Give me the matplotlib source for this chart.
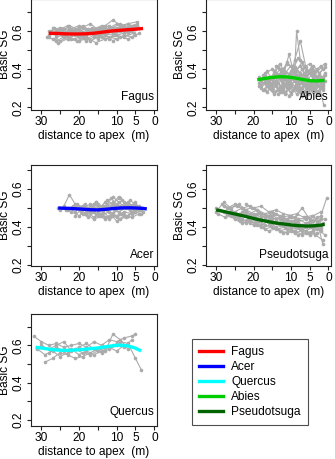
import matplotlib
matplotlib.use("Agg")
import matplotlib.pyplot as plt
from matplotlib.lines import Line2D

plt.rcParams['font.family'] = ['Liberation Sans', 'DejaVu Sans']

# ---------------- data ----------------
species = ["Fagus", "Acer", "Quercus", "Abies", "Pseudotsuga"]
colors = {"Fagus": "#FF0000", "Acer": "#0000FF", "Quercus": "#00FFFF",
          "Abies": "#00CD00", "Pseudotsuga": "#006400"}

# individual trees: (distances to apex, basic SG)
fagus_trees = [
    ([28, 26, 24, 22, 20, 18, 16, 14, 12, 10, 8, 6, 4],
     [0.58, 0.60, 0.57, 0.59, 0.61, 0.58, 0.60, 0.59, 0.62, 0.60, 0.63, 0.61, 0.62]),
    ([27, 25, 23, 21, 19, 17, 15, 13, 11, 9, 7, 5],
     [0.56, 0.55, 0.57, 0.56, 0.58, 0.55, 0.57, 0.59, 0.58, 0.60, 0.59, 0.61]),
    ([27.5, 25, 22.5, 20, 17.5, 15, 12.5, 10, 7.5, 5],
     [0.60, 0.62, 0.61, 0.63, 0.60, 0.62, 0.61, 0.64, 0.62, 0.63]),
    ([26, 24, 22, 20, 18, 16, 14, 12, 10, 8, 6],
     [0.57, 0.58, 0.56, 0.55, 0.56, 0.58, 0.57, 0.56, 0.58, 0.59, 0.60]),
    ([25, 23, 21, 19, 17, 15, 13, 11, 9, 7, 5],
     [0.61, 0.63, 0.60, 0.62, 0.64, 0.61, 0.63, 0.66, 0.63, 0.64, 0.62]),
    ([28, 25.5, 23, 20.5, 18, 15.5, 13, 10.5, 8, 5.5],
     [0.57, 0.54, 0.56, 0.55, 0.57, 0.54, 0.56, 0.58, 0.57, 0.59]),
    ([24, 22, 20, 18, 16, 14, 12, 10, 8, 6, 4.5],
     [0.59, 0.61, 0.60, 0.58, 0.61, 0.63, 0.60, 0.62, 0.61, 0.63, 0.64]),
    ([26.5, 24.5, 22.5, 20.5, 18.5, 16.5, 14.5, 12.5, 10.5, 8.5, 6.5],
     [0.62, 0.60, 0.63, 0.61, 0.59, 0.62, 0.60, 0.59, 0.61, 0.62, 0.60]),
    ([21, 19, 17, 15, 13, 11, 9, 7, 5],
     [0.60, 0.57, 0.59, 0.56, 0.58, 0.55, 0.57, 0.56, 0.58]),
    ([27, 24.5, 22, 19.5, 17, 14.5, 12, 9.5, 7, 4.5],
     [0.59, 0.61, 0.58, 0.60, 0.59, 0.62, 0.60, 0.61, 0.64, 0.65]),
    ([28.5, 26.5, 24.5, 22.5, 20.5, 18.5, 16.5, 14.5, 12.5, 10.5, 8.5, 6.5, 4.5],
     [0.57, 0.59, 0.58, 0.60, 0.58, 0.57, 0.59, 0.58, 0.60, 0.59, 0.61, 0.62, 0.63]),
    ([27, 25, 23, 21, 19, 17, 15, 13, 11, 9, 7, 5],
     [0.62, 0.60, 0.59, 0.61, 0.63, 0.60, 0.58, 0.60, 0.62, 0.64, 0.62, 0.61]),
    ([26, 24, 22, 20, 18, 16, 14, 12, 10, 8, 6, 4],
     [0.55, 0.57, 0.59, 0.57, 0.55, 0.57, 0.59, 0.57, 0.56, 0.58, 0.57, 0.59]),
    ([25.5, 23.5, 21.5, 19.5, 17.5, 15.5, 13.5, 11.5, 9.5, 7.5, 5.5],
     [0.59, 0.58, 0.60, 0.59, 0.61, 0.60, 0.62, 0.61, 0.60, 0.62, 0.63]),
    ([23, 21, 19, 17, 15, 13, 11, 9, 7, 5],
     [0.56, 0.58, 0.57, 0.60, 0.58, 0.60, 0.59, 0.61, 0.60, 0.62]),
    ([28, 26, 24, 22, 20, 18, 16, 14, 12, 10, 8],
     [0.60, 0.58, 0.61, 0.60, 0.62, 0.61, 0.59, 0.61, 0.63, 0.61, 0.60]),
]
fagus_smooth_x = [28, 26, 24, 22, 20, 18, 16, 14, 12, 10, 8, 6, 4, 3]
fagus_smooth_y = [0.590, 0.589, 0.587, 0.586, 0.586, 0.587, 0.590, 0.595, 0.600, 0.604, 0.607, 0.610, 0.613, 0.615]

abies_trees = [
    ([18.5, 17, 15.5, 14, 12.5, 11, 9.5, 8, 6.5, 5, 3.5, 2, 1],
     [0.33, 0.37, 0.31, 0.36, 0.39, 0.33, 0.42, 0.35, 0.38, 0.32, 0.36, 0.33, 0.38]),
    ([18, 16.5, 15, 13.5, 12, 10.5, 9, 7.5, 6, 4.5, 3, 1.5],
     [0.30, 0.34, 0.29, 0.33, 0.30, 0.35, 0.31, 0.37, 0.32, 0.30, 0.34, 0.29]),
    ([17, 15, 13, 11, 9, 8.5, 7.5, 6, 4, 2, 1],
     [0.38, 0.40, 0.37, 0.43, 0.40, 0.60, 0.45, 0.39, 0.36, 0.41, 0.43]),
    ([17.5, 16, 14.5, 13, 11.5, 10, 8.5, 7, 5.5, 4, 2.5, 1.2],
     [0.29, 0.32, 0.28, 0.30, 0.27, 0.31, 0.29, 0.33, 0.30, 0.28, 0.31, 0.21]),
    ([16, 14, 12, 10, 9, 7.5, 6, 4.5, 3, 1.5],
     [0.36, 0.34, 0.40, 0.37, 0.45, 0.55, 0.41, 0.37, 0.40, 0.35]),
    ([18, 16, 14, 12, 10.5, 9, 7, 5, 3.5, 2],
     [0.32, 0.35, 0.33, 0.37, 0.48, 0.36, 0.34, 0.38, 0.33, 0.36]),
    ([15.5, 14, 12.5, 11, 9.5, 8, 6.5, 5, 3.5, 2],
     [0.31, 0.38, 0.34, 0.30, 0.35, 0.31, 0.36, 0.33, 0.29, 0.32]),
    ([17, 15, 13.5, 12, 10, 8, 6, 4, 2.5, 1],
     [0.35, 0.30, 0.36, 0.32, 0.28, 0.34, 0.30, 0.35, 0.31, 0.34]),
    ([14, 12.5, 11, 9.5, 8, 6.5, 5, 3.5, 2],
     [0.42, 0.38, 0.44, 0.40, 0.46, 0.41, 0.43, 0.39, 0.42]),
    ([18.5, 16.5, 14.5, 12.5, 10.5, 8.5, 6.5, 4.5, 2.5],
     [0.36, 0.33, 0.38, 0.35, 0.33, 0.37, 0.32, 0.34, 0.37]),
    ([13, 11.5, 10, 8.5, 7, 5.5, 4, 2.5, 1.5],
     [0.28, 0.32, 0.27, 0.30, 0.26, 0.29, 0.31, 0.28, 0.30]),
    ([16.5, 15, 13.5, 12, 10.5, 9, 7.5, 6, 4.5, 3],
     [0.39, 0.35, 0.41, 0.37, 0.34, 0.39, 0.42, 0.36, 0.40, 0.34]),
    ([18, 16.5, 15, 13.5, 12, 10.5, 9, 7.5, 6, 4.5, 3, 1.5],
     [0.34, 0.31, 0.35, 0.29, 0.33, 0.30, 0.34, 0.29, 0.33, 0.31, 0.28, 0.32]),
    ([17.5, 16, 14.5, 13, 11.5, 10, 8.5, 7, 5.5, 4, 2.5, 1],
     [0.37, 0.33, 0.36, 0.40, 0.35, 0.39, 0.36, 0.40, 0.35, 0.38, 0.34, 0.37]),
    ([16, 14.5, 13, 11.5, 10, 8.5, 7, 5.5, 4, 2.5],
     [0.30, 0.27, 0.31, 0.28, 0.32, 0.27, 0.30, 0.27, 0.29, 0.27]),
    ([15, 13.5, 12, 10.5, 9, 7.5, 6, 4.5, 3, 1.5],
     [0.33, 0.37, 0.31, 0.35, 0.38, 0.33, 0.37, 0.41, 0.36, 0.40]),
    ([18.5, 17, 15.5, 14, 12.5, 11, 9.5, 8, 6.5, 5, 3.5, 2],
     [0.31, 0.29, 0.33, 0.31, 0.28, 0.32, 0.29, 0.31, 0.28, 0.31, 0.33, 0.30]),
    ([14.5, 13, 11.5, 10, 8.5, 7, 5.5, 4, 2.5, 1],
     [0.39, 0.43, 0.38, 0.42, 0.39, 0.44, 0.39, 0.42, 0.38, 0.41]),
    ([17, 15.5, 14, 12.5, 11, 9.5, 8, 6.5, 5, 3.5, 2],
     [0.33, 0.36, 0.32, 0.35, 0.31, 0.36, 0.33, 0.37, 0.34, 0.31, 0.35]),
    ([12, 10.5, 9, 7.5, 6, 4.5, 3, 1.5],
     [0.35, 0.31, 0.34, 0.30, 0.33, 0.29, 0.32, 0.36]),
    ([16.5, 15, 13.5, 12, 10.5, 9, 7.5, 6, 4.5, 3, 1.5],
     [0.28, 0.31, 0.27, 0.29, 0.26, 0.30, 0.28, 0.26, 0.30, 0.27, 0.31]),
    ([13.5, 12, 10.5, 9, 7.5, 6, 4.5, 3, 1.5],
     [0.36, 0.40, 0.37, 0.41, 0.38, 0.35, 0.39, 0.36, 0.33]),
]
abies_smooth_x = [19, 17, 15, 13, 11, 9, 7, 5, 3, 1]
abies_smooth_y = [0.345, 0.352, 0.358, 0.361, 0.360, 0.355, 0.347, 0.340, 0.339, 0.342]

acer_trees = [
    ([25.5, 23.5, 21.5, 19.5, 17.5, 15.5, 13.5, 11.5, 9.5, 7.5, 5.5, 3.5],
     [0.50, 0.49, 0.51, 0.48, 0.50, 0.47, 0.49, 0.51, 0.48, 0.50, 0.49, 0.50]),
    ([24, 22.5, 21, 19, 17, 15, 13, 11, 9, 7, 5],
     [0.51, 0.57, 0.52, 0.50, 0.52, 0.49, 0.51, 0.53, 0.55, 0.52, 0.51]),
    ([22, 20, 18, 16, 14, 12, 10, 8, 6, 4],
     [0.48, 0.46, 0.48, 0.45, 0.47, 0.44, 0.46, 0.48, 0.47, 0.49]),
    ([20, 18.5, 17, 15.5, 14, 12.5, 11, 9.5, 8, 6.5, 5],
     [0.50, 0.52, 0.49, 0.53, 0.51, 0.54, 0.52, 0.56, 0.53, 0.51, 0.53]),
    ([18, 16, 14, 12, 10, 8, 6, 4],
     [0.47, 0.44, 0.46, 0.48, 0.43, 0.46, 0.45, 0.47]),
    ([23, 21, 19, 17, 15, 13, 11, 9, 7, 5, 3],
     [0.49, 0.51, 0.50, 0.48, 0.51, 0.50, 0.47, 0.50, 0.52, 0.49, 0.48]),
    ([16, 14.5, 13, 11.5, 10, 8.5, 7, 5.5, 4],
     [0.52, 0.50, 0.53, 0.55, 0.52, 0.54, 0.50, 0.52, 0.51]),
    ([21, 19.5, 18, 16.5, 15, 13.5, 12, 10.5, 9, 7.5, 6],
     [0.46, 0.49, 0.47, 0.50, 0.46, 0.48, 0.45, 0.49, 0.47, 0.45, 0.48]),
    ([25, 23, 21, 19, 17, 15, 13, 11, 9, 7, 5, 3.5],
     [0.49, 0.50, 0.48, 0.51, 0.49, 0.52, 0.50, 0.52, 0.51, 0.53, 0.50, 0.49]),
    ([19, 17.5, 16, 14.5, 13, 11.5, 10, 8.5, 7, 5.5],
     [0.47, 0.45, 0.48, 0.46, 0.44, 0.46, 0.45, 0.47, 0.46, 0.48]),
    ([22.5, 20.5, 18.5, 16.5, 14.5, 12.5, 10.5, 8.5, 6.5, 4.5],
     [0.50, 0.52, 0.50, 0.48, 0.50, 0.49, 0.51, 0.50, 0.49, 0.51]),
    ([17, 15.5, 14, 12.5, 11, 9.5, 8, 6.5, 5],
     [0.51, 0.53, 0.50, 0.52, 0.56, 0.53, 0.51, 0.54, 0.52]),
    ([15, 13, 11, 9, 7, 5, 3.5],
     [0.48, 0.45, 0.47, 0.44, 0.46, 0.48, 0.47]),
]
acer_smooth_x = [25.5, 23, 20, 17, 15, 13, 11, 9, 7, 5, 3, 2]
acer_smooth_y = [0.500, 0.498, 0.495, 0.491, 0.490, 0.493, 0.497, 0.500, 0.501, 0.500, 0.498, 0.495]

pseudo_trees = [
    ([30, 28, 26, 24, 22, 20, 18, 16, 14, 12, 10, 8, 6, 4, 2, 0.5],
     [0.48, 0.53, 0.50, 0.52, 0.49, 0.47, 0.45, 0.46, 0.44, 0.45, 0.43, 0.44, 0.42, 0.43, 0.46, 0.55]),
    ([29.5, 27.5, 25.5, 23.5, 21.5, 19.5, 17.5, 15.5, 13.5, 11.5, 9.5, 7.5, 5.5, 3.5, 1.5],
     [0.47, 0.45, 0.46, 0.43, 0.44, 0.42, 0.40, 0.41, 0.39, 0.40, 0.38, 0.39, 0.37, 0.36, 0.33]),
    ([28, 26, 24, 22, 20, 18, 16, 14, 12, 10, 8, 6, 4, 2],
     [0.51, 0.49, 0.47, 0.48, 0.46, 0.44, 0.42, 0.43, 0.41, 0.40, 0.41, 0.40, 0.39, 0.41]),
    ([27, 25, 23, 21, 19, 17, 15, 13, 11, 9, 7, 5, 3, 1.5],
     [0.50, 0.52, 0.50, 0.51, 0.49, 0.47, 0.48, 0.46, 0.44, 0.45, 0.50, 0.44, 0.43, 0.31]),
    ([26, 24, 22, 20, 18, 16, 14, 12, 10, 8, 6, 4, 2],
     [0.46, 0.45, 0.43, 0.41, 0.40, 0.38, 0.39, 0.37, 0.38, 0.36, 0.37, 0.38, 0.40]),
    ([25, 23, 21, 19, 17, 15, 13, 11, 9, 7, 5, 3, 1],
     [0.48, 0.50, 0.47, 0.49, 0.46, 0.44, 0.45, 0.43, 0.42, 0.41, 0.43, 0.45, 0.44]),
    ([24, 22, 20, 18, 16, 14, 12, 10, 8, 6, 4, 2],
     [0.44, 0.42, 0.44, 0.41, 0.43, 0.40, 0.42, 0.39, 0.40, 0.38, 0.40, 0.38]),
    ([22, 20, 18, 16, 14, 12, 10, 8, 6, 4, 2],
     [0.52, 0.50, 0.51, 0.48, 0.49, 0.47, 0.46, 0.44, 0.45, 0.43, 0.44]),
    ([29, 27, 25, 23, 21, 19, 17, 15, 13, 11, 9, 7, 5, 3],
     [0.49, 0.47, 0.45, 0.44, 0.42, 0.43, 0.41, 0.40, 0.38, 0.39, 0.37, 0.38, 0.36, 0.37]),
    ([20, 18, 16, 14, 12, 10, 8, 6, 4, 2],
     [0.45, 0.47, 0.45, 0.47, 0.44, 0.45, 0.43, 0.44, 0.46, 0.48]),
    ([30, 28, 26, 24, 22, 20, 18, 16, 14, 12, 10, 8, 6, 4, 2],
     [0.50, 0.48, 0.47, 0.46, 0.47, 0.45, 0.43, 0.44, 0.42, 0.43, 0.41, 0.42, 0.40, 0.41, 0.39]),
    ([28.5, 26.5, 24.5, 22.5, 20.5, 18.5, 16.5, 14.5, 12.5, 10.5, 8.5, 6.5, 4.5, 2.5],
     [0.52, 0.50, 0.51, 0.49, 0.50, 0.48, 0.46, 0.47, 0.45, 0.46, 0.47, 0.45, 0.46, 0.43]),
    ([27, 25, 23, 21, 19, 17, 15, 13, 11, 9, 7, 5, 3, 1],
     [0.47, 0.44, 0.42, 0.43, 0.41, 0.39, 0.40, 0.38, 0.37, 0.38, 0.36, 0.37, 0.39, 0.36]),
    ([23, 21, 19, 17, 15, 13, 11, 9, 7, 5, 3, 1.5],
     [0.48, 0.46, 0.47, 0.45, 0.46, 0.44, 0.42, 0.43, 0.41, 0.42, 0.41, 0.42]),
    ([25, 23, 21, 19, 17, 15, 13, 11, 9, 7, 5, 3],
     [0.45, 0.47, 0.45, 0.43, 0.44, 0.42, 0.41, 0.42, 0.40, 0.39, 0.40, 0.42]),
]
pseudo_smooth_x = [30, 28, 26, 24, 22, 20, 18, 16, 14, 12, 10, 8, 6, 4, 2, 1]
pseudo_smooth_y = [0.490, 0.482, 0.473, 0.464, 0.455, 0.445, 0.436, 0.428, 0.421, 0.416, 0.411, 0.407, 0.405, 0.406, 0.410, 0.414]

quercus_trees = [
    ([32, 30, 28, 26, 24, 22, 20, 18, 16, 14, 12, 10, 8, 6, 5],
     [0.65, 0.62, 0.60, 0.61, 0.59, 0.60, 0.61, 0.59, 0.62, 0.60, 0.63, 0.62, 0.64, 0.65, 0.66]),
    ([31, 29, 27, 25, 23, 21, 19, 17, 15, 13, 11, 9, 7, 5, 3.5],
     [0.58, 0.55, 0.57, 0.54, 0.56, 0.58, 0.56, 0.55, 0.57, 0.59, 0.60, 0.62, 0.61, 0.53, 0.47]),
    ([29, 27, 25, 23, 21, 19, 17, 15, 13, 11, 9, 7],
     [0.51, 0.53, 0.56, 0.55, 0.53, 0.54, 0.56, 0.58, 0.57, 0.66, 0.63, 0.58]),
    ([30, 28, 26, 24, 22, 20, 18, 16, 14, 12, 10, 8, 6],
     [0.60, 0.58, 0.60, 0.62, 0.57, 0.59, 0.61, 0.58, 0.56, 0.58, 0.60, 0.59, 0.63]),
    ([28, 26, 24, 22, 20, 18, 16, 14, 12, 10, 8],
     [0.56, 0.59, 0.57, 0.58, 0.55, 0.57, 0.55, 0.57, 0.59, 0.57, 0.60]),
]
quercus_smooth_x = [31.5, 29, 27, 25, 23, 21, 19, 17, 15, 13, 11, 9, 7, 5, 3.5]
quercus_smooth_y = [0.590, 0.583, 0.577, 0.574, 0.573, 0.575, 0.578, 0.582, 0.586, 0.592, 0.598, 0.601, 0.597, 0.585, 0.570]

xticks = [30, 25, 20, 15, 10, 5, 0]
xticklabels = ["30", "", "20", "", "10", "5", "0"]
yticks = [0.2, 0.3, 0.4, 0.5, 0.6, 0.7]
yticklabels = ["0.2", "", "0.4", "", "0.6", ""]

# ---------------- layout ----------------
W, H = 335, 459
fig = plt.figure(figsize=(W / 100, H / 100), dpi=100)

def px_axes(x0, x1, y0, y1):
    return fig.add_axes([x0 / W, 1 - y1 / H, (x1 - x0) / W, (y1 - y0) / H])

panels = [
    ("Fagus", fagus_trees, fagus_smooth_x, fagus_smooth_y, (31, 157, -1, 110), (0.186, 0.770), 0.117),
    ("Abies", abies_trees, abies_smooth_x, abies_smooth_y, (206, 331, -1, 110), (0.186, 0.770), 0.117),
    ("Acer", acer_trees, acer_smooth_x, acer_smooth_y, (31, 157, 165, 266), (0.195, 0.726), 0.11),
    ("Pseudotsuga", pseudo_trees, pseudo_smooth_x, pseudo_smooth_y, (206, 331, 165, 266), (0.195, 0.726), 0.11),
    ("Quercus", quercus_trees, quercus_smooth_x, quercus_smooth_y, (31, 157, 314, 426), (0.168, 0.768), 0.125),
]

gray = "#ABABAB"
fs = 8.6
for name, trees, sx, sy, box, ylim, ty_lab in panels:
    ax = px_axes(*box)
    for tx, ty in trees:
        ax.plot(tx, ty, color=gray, lw=0.8, marker="o", ms=2.6, mew=0, zorder=2)
    ax.plot(sx, sy, color=colors[name], lw=2.4, solid_capstyle="butt", zorder=3)
    ax.set_xlim(32.7, -0.7)
    ax.set_ylim(*ylim)
    ax.set_xticks(xticks)
    ax.set_xticklabels(xticklabels, fontsize=fs)
    ax.set_yticks(yticks)
    ax.set_yticklabels(yticklabels, fontsize=fs, rotation=90, va="center")
    ax.tick_params(length=3, width=0.8, color="#222222", pad=1.5)
    for s in ax.spines.values():
        s.set_color("#222222")
        s.set_linewidth(0.8)
    ax.set_xlabel("distance to apex  (m)", fontsize=fs, labelpad=1.5)
    ax.set_ylabel("Basic SG", fontsize=fs, labelpad=1.5)
    ax.text(0.98, ty_lab, name, transform=ax.transAxes, ha="right", va="center",
            fontsize=fs, zorder=4)

# legend
lax = px_axes(165, 335, 330, 430)
lax.axis("off")
handles = [Line2D([0], [0], color=colors[s], lw=2.4) for s in species]
lax.legend(handles, species, loc="upper left",
           bbox_to_anchor=((192 - 165) / 170, (430 - 339) / 100),
           fontsize=fs, frameon=True, fancybox=False, edgecolor="#222222",
           handlelength=2.0, handletextpad=0.7, labelspacing=0.25,
           borderpad=0.6, borderaxespad=0)
lax.get_legend().get_frame().set_linewidth(0.8)

fig.savefig("out.png", dpi=100)
